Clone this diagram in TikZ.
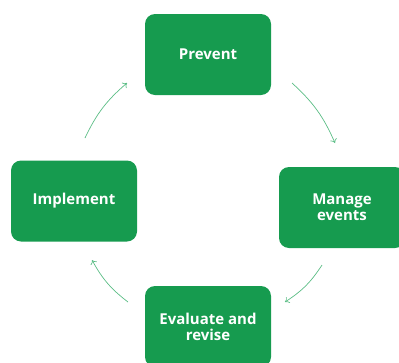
\documentclass[tikz,border=0pt]{standalone}
\usepackage{fontspec}
\setmainfont{Open Sans}
\usetikzlibrary{arrows.meta}
\definecolor{boxgreen}{HTML}{169B4F}
\definecolor{arrowgreen}{HTML}{5BBD85}
\tikzset{
  stage/.style={rectangle, rounded corners=10pt, fill=boxgreen, text=white,
    font=\fontsize{15}{16}\selectfont\bfseries, align=center,
    minimum width=126pt, minimum height=81pt},
  cycle/.style={-{To[length=4pt,width=7pt]}, draw=arrowgreen, line width=0.7pt, bend left=12}
}
\begin{document}
\begin{tikzpicture}[x=1pt,y=-1pt]
            \useasboundingbox (0,0) rectangle (399,362);
            \node [stage] (prevent) at (208,54.5) {Prevent};
            \node [stage] (manage) at (342,207.5) {Manage\\events};
            \node [stage] (evaluate) at (208,326.5) {Evaluate and\\revise};
            \node [stage] (implement) at (74,201) {Implement};
            \coordinate (pm1) at (292,83);
            \coordinate (pm2) at (335,143);
            \coordinate (me1) at (322,265);
            \coordinate (me2) at (285,302);
            \coordinate (ei1) at (128,302);
            \coordinate (ei2) at (92,260);
            \coordinate (ip1) at (85,138);
            \coordinate (ip2) at (127,83);
            \draw [cycle] (pm1) to (pm2);
            \draw [cycle] (me1) to (me2);
            \draw [cycle] (ei1) to (ei2);
            \draw [cycle] (ip1) to (ip2);
        \end{tikzpicture}
\end{document}
